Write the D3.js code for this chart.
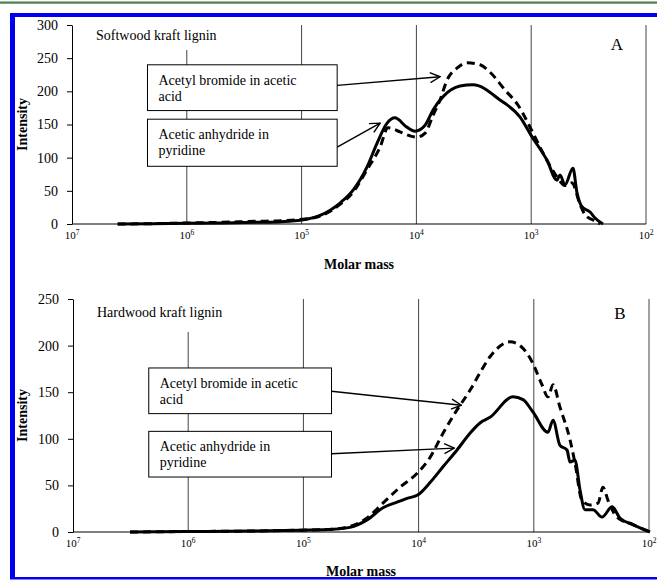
<!DOCTYPE html>
<html>
<head>
<meta charset="utf-8">
<script src="https://cdn.jsdelivr.net/npm/d3@7"></script>
<style>
  html, body { margin: 0; padding: 0; background: #fff; }
  svg { display: block; font-family: "Liberation Serif", "Times New Roman", serif; }
</style>
</head>
<body>
<svg id="chart" width="657" height="580"></svg>
<script>
// ---------------- DATA ----------------
const xTicks = [1e7, 1e6, 1e5, 1e4, 1e3, 1e2];
const yTicksA = [0, 50, 100, 150, 200, 250, 300];
const yTicksB = [0, 50, 100, 150, 200, 250];

// Panel A: Softwood kraft lignin
const massA_solid = [4000000, 2000000, 1000000, 500000, 250000, 150000, 100000, 69000, 46000, 35600, 26900, 22000, 18000, 15400, 12100, 10300, 8400, 7160, 5860, 4170, 3210, 1870, 1250, 1005, 728, 596, 561, 508, 433, 399, 361, 307, 278, 237];
const intA_solid  = [0, 0.5, 1, 1.5, 2.5, 3.5, 6, 13, 32, 51, 86, 122, 152, 160, 146, 140, 149, 172, 192, 208, 210, 187, 161, 134, 96, 66, 74, 59, 84, 47, 26, 18, 9, 0];
const massA_dash  = [4000000, 2000000, 1000000, 500000, 250000, 150000, 100000, 69000, 46000, 35600, 26900, 20700, 17700, 13900, 11400, 9890, 8400, 7160, 6220, 5410, 4430, 3620, 2790, 2290, 1690, 1300, 964, 789, 596, 508, 443, 376, 340, 290, 252];
const intA_dash   = [0, 0.5, 1.5, 2.5, 4, 5, 7, 12, 30, 48, 82, 116, 145, 139, 133, 131, 137, 164, 187, 217, 235, 243, 240, 229, 202, 179, 137, 107, 71, 58, 62, 30, 14, 6, 0];

// Panel B: Hardwood kraft lignin
const massB_solid = [3200000, 1000000, 290000, 107000, 55300, 39400, 28000, 20400, 15400, 12600, 10100, 7960, 6140, 4640, 3580, 2930, 2400, 1520, 1240, 1020, 753, 681, 593, 515, 485, 439, 397, 360, 306, 256, 209, 179, 138, 98];
const intB_solid  = [0, 0.5, 1, 2, 3, 5, 13, 26, 32, 36, 40, 53, 70, 88, 106, 117, 123, 145, 142, 129, 107, 120, 93, 88, 75, 77, 45, 24, 24, 16, 27, 15, 8, 0];
const massB_dash  = [3200000, 1000000, 290000, 107000, 55300, 39400, 28000, 20400, 14500, 10100, 7960, 6140, 4640, 3580, 2930, 2400, 1610, 1240, 1020, 849, 753, 681, 593, 485, 439, 382, 325, 277, 251, 227, 190, 138, 98];
const intB_dash   = [0, 0.5, 1, 2, 3, 6, 15, 31, 48, 64, 80, 106, 131, 152, 171, 188, 204, 197, 181, 158, 145, 158, 134, 99, 74, 34, 29, 31, 48, 34, 16, 8, 0];

const legendLines = [["Acetyl bromide in acetic", "acid"], ["Acetic anhydride in", "pyridine"]];
const panelTitles = ["Softwood kraft lignin", "Hardwood kraft lignin"];
const panelLetters = ["A", "B"];

// annotation anchors in data space [mass, intensity]
const boxesA = [ {m0: 2.2e6, m1: 49000, i0: 240, i1: 171}, {m0: 2.2e6, m1: 49000, i0: 158, i1: 87} ];
const arrowsA = [ {m0: 49000, i0: 209, m1: 6220, i1: 222}, {m0: 49000, i0: 116, m1: 20700, i1: 152} ];
const boxesB = [ {m0: 2.2e6, m1: 57000, i0: 176, i1: 127}, {m0: 2.2e6, m1: 57000, i0: 108, i1: 59} ];
const arrowsB = [ {m0: 57000, i0: 151, m1: 4250, i1: 136}, {m0: 57000, i0: 84, m1: 4900, i1: 90} ];

// ---------------- DRAW ----------------
const svg = d3.select("#chart");
svg.append("rect").attr("width", 657).attr("height", 580).attr("fill", "#fff");

svg.append("defs").append("marker")
  .attr("id", "arr").attr("viewBox", "0 0 12 12")
  .attr("refX", 11).attr("refY", 6)
  .attr("markerWidth", 12).attr("markerHeight", 12)
  .attr("markerUnits", "userSpaceOnUse")
  .attr("orient", "auto")
  .append("path").attr("d", "M1,1 L11,6 L1,11")
  .attr("fill", "none").attr("stroke", "#000").attr("stroke-width", 1.4);

const panels = [
  { x0: 72, x1: 646, yTop: 25, yBot: 224, ymax: 300, yTicks: yTicksA,
    solid: massA_solid.map((m, i) => [m, intA_solid[i]]),
    dash: massA_dash.map((m, i) => [m, intA_dash[i]]),
    boxes: boxesA, arrows: arrowsA, title: panelTitles[0], letter: panelLetters[0],
    titleBg: [88, 238, 25, 50], titleY: 40, letterY: 50, xlabY: 269, ylabX: 22 },
  { x0: 73, x1: 649, yTop: 299, yBot: 532, ymax: 250, yTicks: yTicksB,
    solid: massB_solid.map((m, i) => [m, intB_solid[i]]),
    dash: massB_dash.map((m, i) => [m, intB_dash[i]]),
    boxes: boxesB, arrows: arrowsB, title: panelTitles[1], letter: panelLetters[1],
    titleBg: [88, 240, 299, 332], titleY: 317, letterY: 319, xlabY: 576, ylabX: 22 }
];

panels.forEach(p => {
  const x = d3.scaleLog().domain([1e7, 1e2]).range([p.x0, p.x1]);
  const y = d3.scaleLinear().domain([0, p.ymax]).range([p.yBot, p.yTop]);
  const g = svg.append("g");

  // vertical gridlines (including right border at 10^2)
  g.selectAll("line.grid").data(xTicks.slice(1)).enter().append("line")
    .attr("x1", d => x(d)).attr("x2", d => x(d))
    .attr("y1", p.yTop).attr("y2", p.yBot)
    .attr("stroke", "#444").attr("stroke-width", 1);

  // title with white background
  g.append("rect").attr("x", p.titleBg[0]).attr("y", p.titleBg[2])
    .attr("width", p.titleBg[1] - p.titleBg[0]).attr("height", p.titleBg[3] - p.titleBg[2])
    .attr("fill", "#fff");
  g.append("text").attr("x", p.x0 + 24).attr("y", p.titleY)
    .attr("font-size", 14).text(p.title);

  g.append("text").attr("x", p.x1 - 29).attr("y", p.letterY)
    .attr("font-size", 17).attr("text-anchor", "middle").text(p.letter);

  // y axis
  const ya = g.append("g").attr("transform", `translate(${p.x0},0)`)
    .call(d3.axisLeft(y).tickValues(p.yTicks).tickSize(5).tickSizeOuter(0).tickPadding(9).tickFormat(d3.format("d")));
  ya.select(".domain").attr("stroke", "#000");
  ya.selectAll("text").attr("font-size", 14).attr("font-family", "Liberation Serif, serif").attr("fill", "#000");

  // x axis
  g.append("line").attr("x1", p.x0).attr("x2", p.x1).attr("y1", p.yBot).attr("y2", p.yBot)
    .attr("stroke", "#000").attr("stroke-width", 1);
  const xl = g.selectAll("text.xt").data(xTicks).enter().append("text")
    .attr("x", d => x(d)).attr("y", p.yBot + 15)
    .attr("text-anchor", "middle").attr("font-size", 11);
  xl.append("tspan").text("10");
  xl.append("tspan").attr("dy", -4).attr("font-size", 7.5).text(d => Math.round(Math.log10(d)));

  // axis titles
  g.append("text").attr("x", (p.x0 + p.x1) / 2).attr("y", p.xlabY)
    .attr("text-anchor", "middle").attr("font-size", 14).attr("font-weight", "bold").text("Molar mass");
  g.append("text").attr("transform", `translate(${p.ylabX + 5},${(p.yTop + p.yBot) / 2}) rotate(-90)`)
    .attr("text-anchor", "middle").attr("font-size", 14).attr("font-weight", "bold").text("Intensity");

  // curves
  const line = d3.line().x(d => x(d[0])).y(d => y(d[1])).curve(d3.curveMonotoneX);
  g.append("path").datum(p.solid).attr("d", line)
    .attr("fill", "none").attr("stroke", "#000").attr("stroke-width", 3).attr("stroke-linejoin", "round");
  g.append("path").datum(p.dash).attr("d", line)
    .attr("fill", "none").attr("stroke", "#000").attr("stroke-width", 3)
    .attr("stroke-dasharray", "8,5");

  // legend boxes
  p.boxes.forEach((b, k) => {
    g.append("rect").attr("x", x(b.m0)).attr("y", y(b.i0))
      .attr("width", x(b.m1) - x(b.m0)).attr("height", y(b.i1) - y(b.i0))
      .attr("fill", "#fff").attr("stroke", "#000").attr("stroke-width", 1);
    legendLines[k].forEach((t, j) => {
      g.append("text").attr("x", x(b.m0) + 11).attr("y", y(b.i0) + 20 + j * 16)
        .attr("font-size", 14).text(t);
    });
  });
  p.arrows.forEach(a => {
    g.append("line").attr("x1", x(a.m0)).attr("y1", y(a.i0))
      .attr("x2", x(a.m1)).attr("y2", y(a.i1))
      .attr("stroke", "#000").attr("stroke-width", 1.4).attr("marker-end", "url(#arr)");
  });
});

// page frame decoration
svg.append("rect").attr("x", 0).attr("y", 1.5).attr("width", 657).attr("height", 2.2).attr("fill", "#4a8050");
svg.append("rect").attr("x", 10).attr("y", 13).attr("width", 647).attr("height", 4).attr("fill", "#0000ee");
svg.append("rect").attr("x", 10).attr("y", 13).attr("width", 5).attr("height", 566).attr("fill", "#0000ee");
svg.append("rect").attr("x", 10).attr("y", 577).attr("width", 647).attr("height", 2.5).attr("fill", "#0000ee");
</script>
</body>
</html>
